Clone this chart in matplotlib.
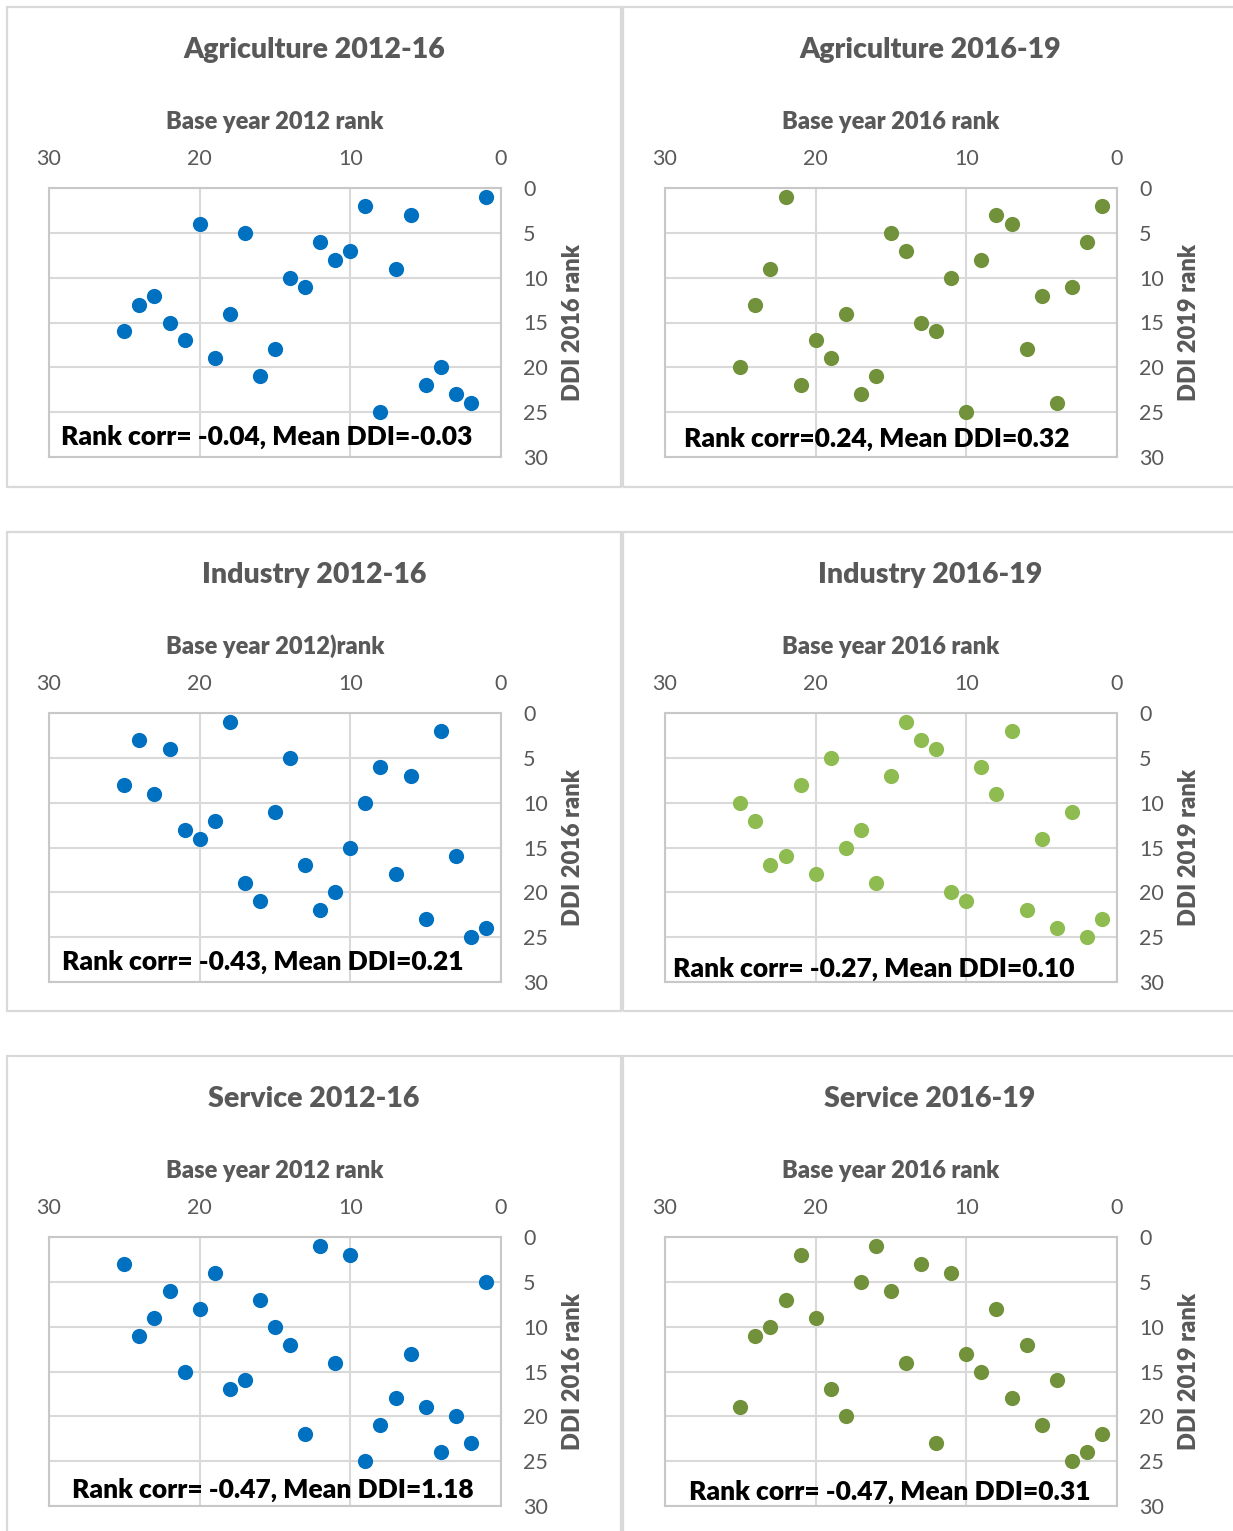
import matplotlib
matplotlib.use('Agg')
import matplotlib.pyplot as plt
from matplotlib.patches import Rectangle

plt.rcParams['font.family'] = ['Lato', 'DejaVu Sans']

# ---------------- data ----------------
titles = ["Agriculture 2012-16", "Agriculture 2016-19",
          "Industry 2012-16", "Industry 2016-19",
          "Service 2012-16", "Service 2016-19"]
xlabels = ["Base year 2012 rank", "Base year 2016 rank",
           "Base year 2012)rank", "Base year 2016 rank",
           "Base year 2012 rank", "Base year 2016 rank"]
ylabels = ["DDI 2016 rank", "DDI 2019 rank",
           "DDI 2016 rank", "DDI 2019 rank",
           "DDI 2016 rank", "DDI 2019 rank"]
notes = ["Rank corr= -0.04, Mean DDI=-0.03", "Rank corr=0.24, Mean DDI=0.32",
         "Rank corr= -0.43, Mean DDI=0.21", "Rank corr= -0.27, Mean DDI=0.10",
         "Rank corr= -0.47, Mean DDI=1.18", "Rank corr= -0.47, Mean DDI=0.31"]

ddi_rank = [1, 2, 3, 4, 5, 6, 7, 8, 9, 10, 11, 12, 13,
            14, 15, 16, 17, 18, 19, 20, 21, 22, 23, 24, 25]

agri_1216_base = [1, 9, 6, 20, 17, 12, 10, 11, 7, 14, 13, 23, 24,
                  18, 22, 25, 21, 15, 19, 4, 16, 5, 3, 2, 8]
agri_1619_base = [22, 1, 8, 7, 15, 2, 14, 9, 23, 11, 3, 5, 24,
                  18, 13, 12, 20, 6, 19, 25, 16, 21, 17, 4, 10]
ind_1216_base = [18, 4, 24, 22, 14, 8, 6, 25, 23, 9, 15, 19, 21,
                 20, 10, 3, 13, 7, 17, 11, 16, 12, 5, 1, 2]
ind_1619_base = [14, 7, 13, 12, 19, 9, 15, 21, 8, 25, 3, 24, 17,
                 5, 18, 22, 23, 20, 16, 11, 10, 6, 1, 4, 2]
serv_1216_base = [12, 10, 25, 19, 1, 22, 16, 20, 23, 15, 24, 14, 6,
                  11, 21, 17, 18, 7, 5, 3, 8, 13, 2, 4, 9]
serv_1619_base = [16, 21, 13, 11, 17, 15, 22, 8, 20, 23, 24, 6, 10,
                  14, 9, 4, 19, 7, 25, 18, 5, 1, 12, 2, 3]

series = [agri_1216_base, agri_1619_base, ind_1216_base,
          ind_1619_base, serv_1216_base, serv_1619_base]

x_ticks = [30, 20, 10, 0]
y_ticks = [0, 5, 10, 15, 20, 25, 30]

# ---------------- style / layout ----------------
colors = ["#0070C0", "#71923A", "#0070C0", "#8EBC50", "#0070C0", "#71923A"]
note_pos = [(12, 249), (19, 251), (13, 249), (8, 256), (23, 253), (24, 255)]

W, H = 1233, 1531
fig = plt.figure(figsize=(W / 100, H / 100), dpi=100)

panel_left = [7, 623]
panel_right = [621, 1250]
row_top = [7, 532, 1056]
row_bot = [487, 1011, 1560]
axes_left = [49, 665]
AX_W, AX_H = 452, 269
GRAY = "#595959"
BOLD = 800


def fx(px):
    return px / W


def fy(py):
    return 1 - py / H


for i in range(6):
    r, c = divmod(i, 2)
    top = row_top[r]
    rect = Rectangle((fx(panel_left[c]), fy(row_bot[r])),
                     (panel_right[c] - panel_left[c]) / W,
                     (row_bot[r] - top) / H,
                     fill=False, ec="#d9d9d9", lw=1.6,
                     transform=fig.transFigure, figure=fig)
    fig.patches.append(rect)

    ax_top = top + 181
    ax = fig.add_axes([fx(axes_left[c]), fy(ax_top + AX_H), AX_W / W, AX_H / H])
    ax.scatter(series[i], ddi_rank, s=120, c=colors[i], linewidths=0, zorder=3)
    ax.set_xlim(30, 0)
    ax.set_ylim(30, 0)
    ax.set_xticks(x_ticks)
    ax.set_yticks(y_ticks)
    ax.xaxis.tick_top()
    ax.yaxis.tick_right()
    ax.tick_params(length=0, labelsize=15.5, labelcolor=GRAY)
    ax.tick_params(axis='x', pad=14)
    ax.tick_params(axis='y', pad=16)
    ax.grid(True, color="#d9d9d9", lw=1.5)
    ax.set_axisbelow(True)
    for sp in ax.spines.values():
        sp.set_color("#c8c8c8")
        sp.set_linewidth(1.5)

    ax.xaxis.set_label_position('top')
    ax.set_xlabel(xlabels[i], fontsize=17, fontweight=BOLD, color=GRAY, labelpad=14)
    ax.yaxis.set_label_position('right')
    ax.set_ylabel(ylabels[i], fontsize=17, fontweight=BOLD, color=GRAY,
                  rotation=90, labelpad=10)

    nx, ny = note_pos[i]
    ax.text(nx / AX_W, 1 - ny / AX_H, notes[i], transform=ax.transAxes,
            fontsize=19, fontweight=BOLD, color='black', ha='left', va='center',
            zorder=4)

    cx = (panel_left[c] + min(panel_right[c], 1237)) / 2
    fig.text(fx(cx), fy(top + 43), titles[i], ha='center', va='center',
             fontsize=20.5, fontweight=BOLD, color=GRAY)

fig.savefig("out.png", dpi=100, facecolor='white')
